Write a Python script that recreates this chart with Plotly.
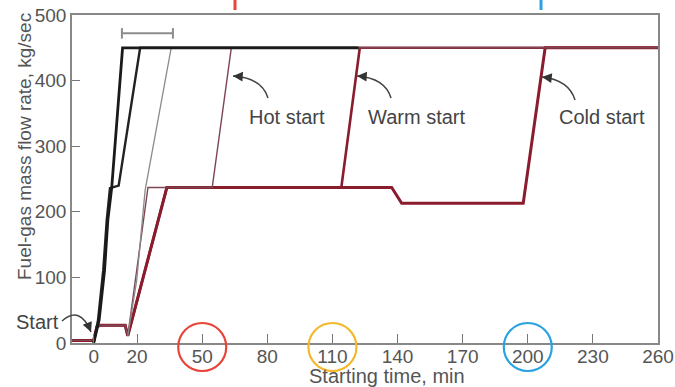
import plotly.graph_objects as go

# ---- data (minutes, kg/sec) ----
hot_t = [-10, 0, 1.5, 3, 14.5, 15.7, 25, 54.6, 63.4, 260]
hot_v = [4, 4, 25, 27, 27, 11, 237, 237, 450, 450]
warm_t = [-10, 0, 1.5, 3, 14.5, 15.7, 33.7, 114.1, 122.6, 260]
warm_v = [4, 4, 25, 27, 27, 11, 237, 237, 450, 450]
cold_t = [-10, 0, 1.5, 3, 14.5, 15.7, 33.7, 137.3, 141.9, 197.9, 208, 260]
cold_v = [4, 4, 25, 27, 27, 11, 237, 237, 213, 213, 450, 450]
blackA_t = [0, 2.5, 5, 6.5, 8.3, 13.3, 122]
blackA_v = [0, 35, 111, 187, 237, 450, 450]
blackB_t = [0, 2, 4.4, 6, 7.5, 11.5, 21.4, 122]
blackB_v = [0, 35, 111, 187, 236, 240, 450, 450]
grayC_t = [15.7, 19.8, 23.7, 35.7, 122]
grayC_v = [11, 95, 233, 450, 450]
bracket_t = [13, 36.5]
bracket_v = 472

x_ticks = [0, 20, 50, 80, 110, 140, 170, 200, 230, 260]
y_ticks = [0, 100, 200, 300, 400, 500]
circled = [(50, "#e8443a"), (110, "#f4b82c"), (200, "#2aa2e0")]
top_marks = [(65.1, "#e8443a"), (206.1, "#2aa2e0")]

W, H = 675, 387
L, R, T, B = 72, 17, 15, 44
PW, PH = W - L - R, H - T - B
X0, X1 = -10, 260

def xp(px):
    return (px - L) / PW

def yp(py):
    return (H - B - py) / PH

def dx(t):  # data x -> pixel
    return L + (t - X0) / (X1 - X0) * PW

MAROON = "#8a1d2d"
fig = go.Figure()
fig.add_trace(go.Scatter(x=cold_t, y=cold_v, mode="lines", line=dict(color=MAROON, width=3)))
fig.add_trace(go.Scatter(x=warm_t, y=warm_v, mode="lines", line=dict(color=MAROON, width=2.6)))
fig.add_trace(go.Scatter(x=hot_t, y=hot_v, mode="lines", line=dict(color="#7e4652", width=1.4)))
fig.add_trace(go.Scatter(x=grayC_t, y=grayC_v, mode="lines", line=dict(color="#8a8a8a", width=1.3)))
fig.add_trace(go.Scatter(x=blackB_t, y=blackB_v, mode="lines", line=dict(color="#222222", width=2.4)))
fig.add_trace(go.Scatter(x=blackA_t, y=blackA_v, mode="lines", line=dict(color="#1a1a1a", width=2.8)))

# bracket (range of black curves)
fig.add_trace(go.Scatter(x=bracket_t, y=[bracket_v, bracket_v], mode="lines",
                         line=dict(color="#8c8c8c", width=2)))
for bt in bracket_t:
    fig.add_trace(go.Scatter(x=[bt, bt], y=[bracket_v - 8, bracket_v + 8], mode="lines",
                             line=dict(color="#8c8c8c", width=2)))

shapes = []
# circles round tick labels
for val, col in circled:
    cx = dx(val)
    shapes.append(dict(type="circle", xref="paper", yref="paper",
                       x0=xp(cx - 24), x1=xp(cx + 24), y0=yp(371), y1=yp(323),
                       line=dict(color=col, width=2.2)))
# little coloured marks above the frame
for val, col in top_marks:
    px = dx(val)
    shapes.append(dict(type="line", xref="paper", yref="paper",
                       x0=xp(px), x1=xp(px), y0=yp(0), y1=yp(10),
                       line=dict(color=col, width=3)))

# curved arrows
def qpath(p0, c, p1):
    return "M {},{} Q {},{} {},{}".format(xp(p0[0]), yp(p0[1]), xp(c[0]), yp(c[1]), xp(p1[0]), yp(p1[1]))

arrows = [
    ((62, 321), (80, 305), (91, 332)),
    ((268, 98), (262, 78), (233, 76)),
    ((391, 98), (385, 78), (357, 76)),
    ((575, 100), (569, 80), (542, 77)),
]
annotations = []
for p0, c, p1 in arrows:
    shapes.append(dict(type="path", xref="paper", yref="paper", path=qpath(p0, c, p1),
                       line=dict(color="#444444", width=1.5)))
    vx, vy = p1[0] - c[0], p1[1] - c[1]
    n = (vx ** 2 + vy ** 2) ** 0.5
    annotations.append(dict(x=xp(p1[0]), y=yp(p1[1]), xref="paper", yref="paper", text="",
                            showarrow=True, arrowhead=2, arrowsize=1.3, arrowwidth=1.5,
                            arrowcolor="#333333", ax=-vx / n * 7, ay=-vy / n * 7))

TXT = "#444444"
FONT = "Liberation Sans, Arial, sans-serif"
labels = [("Start", 37, 322), ("Hot start", 287, 117), ("Warm start", 416, 117), ("Cold start", 602, 117)]
for txt, px, py in labels:
    annotations.append(dict(x=xp(px), y=yp(py), xref="paper", yref="paper", text=txt,
                            xanchor="center", yanchor="middle",
                            showarrow=False, font=dict(size=20, color=TXT, family=FONT)))
annotations.append(dict(x=xp(387), y=yp(376), xref="paper", yref="paper", text="Starting time, min",
                        xanchor="center", yanchor="middle",
                        showarrow=False, font=dict(size=20, color="#555555", family=FONT)))
annotations.append(dict(x=xp(24), y=yp(147), xref="paper", yref="paper", text="Fuel-gas mass flow rate, kg/sec",
                        xanchor="center", yanchor="middle",
                        textangle=-90, showarrow=False, font=dict(size=19, color="#555555", family=FONT)))

fig.update_layout(
    width=W, height=H, margin=dict(l=L, r=R, t=T, b=B, autoexpand=False),
    paper_bgcolor="white", plot_bgcolor="white", showlegend=False,
    shapes=shapes, annotations=annotations,
    font=dict(family=FONT, size=19, color="#555555"),
)
fig.update_xaxes(range=[X0, X1], tickvals=x_ticks, ticks="inside", ticklen=9, tickcolor="#777777",
                 showgrid=False, zeroline=False, showline=True, linecolor="#888888", linewidth=1.5,
                 mirror=True, tickfont=dict(size=19, color="#555555"), automargin=False,
                 ticklabelstandoff=-5)
fig.update_yaxes(range=[0, 500], tickvals=y_ticks, ticks="inside", ticklen=8, tickcolor="#777777",
                 showgrid=False, zeroline=False, showline=True, linecolor="#888888", linewidth=1.5,
                 mirror=True, tickfont=dict(size=19, color="#555555"), automargin=False)

fig.write_html("out.html", config={"displayModeBar": False},
               post_script="document.body.style.margin='0px';document.body.style.overflow='hidden';")
